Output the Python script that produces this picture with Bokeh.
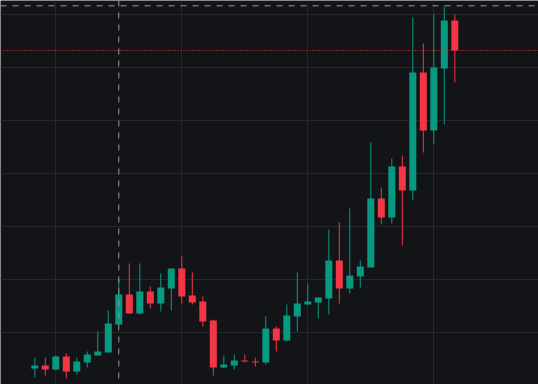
from bokeh.plotting import figure
from bokeh.models import ColumnDataSource, Range1d, FixedTicker, Span
from bokeh.embed import file_html
from bokeh.resources import INLINE

# Candle data (bar index, OHLC)
bar_index = list(range(41))
opens = [3.21, 3.77, 3.02, 5.47, 2.64, 4.34, 5.66, 6.23, 11.51, 17.17,
         13.58, 17.74, 15.47, 18.30, 22.08, 16.98, 15.85, 12.26, 3.40, 3.77,
         4.72, 4.53, 4.34, 10.75, 8.49, 13.02, 15.28, 15.66, 16.42, 23.58,
         18.30, 20.57, 22.26, 35.28, 31.70, 41.32, 36.79, 59.06, 48.11, 59.81,
         68.87]
highs = [5.28, 5.28, 5.66, 6.04, 5.28, 6.42, 10.19, 14.15, 20.00, 23.02,
         23.02, 18.68, 21.13, 22.08, 24.34, 21.32, 16.79, 12.45, 5.66, 5.85,
         5.85, 5.28, 13.02, 11.13, 15.28, 21.32, 19.25, 16.60, 29.43, 30.75,
         33.40, 23.58, 45.85, 37.36, 42.83, 43.40, 69.43, 64.53, 70.00, 71.51,
         70.00]
lows = [1.51, 1.89, 2.90, 1.32, 2.08, 3.40, 5.66, 6.23, 11.32, 13.58,
        13.40, 14.53, 13.96, 14.15, 15.47, 15.28, 11.13, 1.89, 3.21, 3.02,
        4.34, 3.58, 3.96, 6.42, 8.30, 10.19, 15.28, 12.64, 13.40, 15.47,
        17.36, 18.49, 22.26, 30.38, 30.57, 26.42, 34.91, 43.96, 45.47, 49.25,
        57.17]
closes = [3.77, 3.02, 5.47, 2.64, 4.53, 5.85, 6.42, 11.70, 17.17, 13.58,
          17.74, 15.47, 18.49, 22.08, 16.79, 15.66, 12.08, 3.40, 3.96, 4.72,
          4.53, 4.34, 10.75, 8.49, 13.21, 15.47, 15.85, 16.60, 23.58, 18.30,
          20.75, 22.45, 35.28, 31.70, 41.32, 36.79, 59.06, 48.11, 60.00, 68.87,
          63.21]

price_grid = [10, 20, 30, 40, 50, 60, 70]
time_grid = [2, 14, 26, 38]
crosshair_bar = 8
crosshair_price = 71.64

UP = "#089981"
DOWN = "#F23645"
BG = "#131418"
GRID = "#26272b"
CROSS = "#9598A1"

colors = [UP if c >= o else DOWN for o, c in zip(opens, closes)]
tops = [max(o, c) for o, c in zip(opens, closes)]
bottoms = [min(o, c) for o, c in zip(opens, closes)]

src = ColumnDataSource(dict(x=bar_index, open=opens, high=highs, low=lows,
                            close=closes, color=colors, top=tops, bottom=bottoms))

p = figure(width=538, height=384, output_backend="svg", toolbar_location=None,
           x_range=Range1d(-3.267, 47.97), y_range=Range1d(0.189, 72.64),
           background_fill_color=BG, border_fill_color=BG, min_border=0,
           outline_line_color=None, margin=(0, 0, 0, 0))
p.axis.visible = False
p.xgrid.ticker = FixedTicker(ticks=time_grid)
p.ygrid.ticker = FixedTicker(ticks=price_grid)
p.grid.grid_line_color = GRID
p.grid.grid_line_width = 1

p.segment(x0="x", y0="low", x1="x", y1="high", line_color="color", line_width=1, source=src)
p.vbar(x="x", width=0.667, top="top", bottom="bottom", fill_color="color",
       line_color=None, source=src)

p.add_layout(Span(location=closes[-1], dimension="width", line_color=DOWN,
                  line_width=1, line_dash="1 2"))
p.add_layout(Span(location=crosshair_bar, dimension="height", line_color=CROSS,
                  line_width=1, line_dash="6 6"))
p.add_layout(Span(location=crosshair_price, dimension="width", line_color=CROSS,
                  line_width=1, line_dash="6 6"))

open("out.html", "w").write(file_html(p, INLINE))
